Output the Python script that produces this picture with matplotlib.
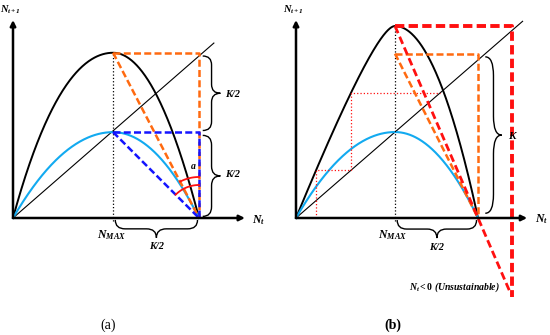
import numpy as np
import matplotlib
matplotlib.use("Agg")
import matplotlib.pyplot as plt
from matplotlib.path import Path
from matplotlib.patches import PathPatch

plt.rcParams['font.family'] = ['Liberation Serif', 'DejaVu Serif']
plt.rcParams['mathtext.fontset'] = 'custom'
plt.rcParams['mathtext.rm'] = 'Liberation Serif'
plt.rcParams['mathtext.it'] = 'Liberation Serif:italic'
plt.rcParams['mathtext.bf'] = 'Liberation Serif:bold'
plt.rcParams['mathtext.bfit'] = 'Liberation Serif:italic:bold'

# values (K = 1)
K = 1.0
# panel (a)
a_nmax = 0.538
a_black_peak = 1.02
a_blue_peak = 0.53
a_black_ctrl = (0.45, 0.5)
a_blue_ctrl = (0.5, 0.5)
a_diag_end = 1.08
a_xaxis_end, a_yaxis_end = 1.247, 1.222
# panel (b)
b_nmax = 0.544
b_black_peak = 1.215
b_blue_peak = 0.544
b_black_ctrl = (0.8, 0.5)
b_blue_ctrl = (0.5, 0.5)
b_orange_top = 1.04
b_red_right, b_red_bottom = 1.187, -0.50
b_red_diag_end = 1.175
b_cobweb_start = 0.11
b_diag_end = 1.245
b_xaxis_end, b_yaxis_end = 1.27, 1.253

# pixel layout of each panel: origin and pixels per unit
W, H = 550, 335
a_origin, a_scale = (13, 218), (186, 162)
b_origin, b_scale = (296, 218), (182, 158)

ORANGE = '#ff6a10'
BLUE = '#1414ff'
CYAN = '#12aaf0'
RED = '#ff1010'
BOLDIT = dict(style='italic', weight='bold')


def panel(fig, origin, scale):
    ax = fig.add_axes([0, 0, 1, 1])
    ox, oy = origin
    sx, sy = scale
    ax.set_xlim(-ox / sx, (W - ox) / sx)
    ax.set_ylim(-(H - oy) / sy, oy / sy)
    ax.axis('off')
    ax.patch.set_alpha(0)
    return ax


def hump(nmax, peak, ctrl, k=K, n=200):
    s = np.linspace(0, 1, n)
    cl, cr = ctrl
    xl = 2 * s * (1 - s) * cl * nmax + s ** 2 * nmax
    yl = peak * (2 * s - s ** 2)
    xr = (1 - s) ** 2 * nmax + 2 * s * (1 - s) * (nmax + cr * (k - nmax)) + s ** 2 * k
    yr = peak * (1 - s ** 2)
    return np.concatenate([xl, xr]), np.concatenate([yl, yr])


def brace(ax, start, length, width, vertical, lw=1.0):
    # curly brace, local u along length, v outwards
    L, w = length, width
    r = 0.12 * abs(L)
    sgn = np.sign(L)
    pts = [(0, 0), (0, w / 2), (sgn * r, w / 2), (L / 2 - sgn * r, w / 2),
           (L / 2, w / 2), (L / 2, w), (L / 2, w / 2), (L / 2 + sgn * r, w / 2),
           (L - sgn * r, w / 2), (L, w / 2), (L, 0)]
    codes = [Path.MOVETO, Path.CURVE3, Path.CURVE3, Path.LINETO,
             Path.CURVE3, Path.CURVE3, Path.CURVE3, Path.CURVE3,
             Path.LINETO, Path.CURVE3, Path.CURVE3]
    x0, y0 = start
    if vertical:
        verts = [(x0 + v, y0 + u) for u, v in pts]
    else:
        verts = [(x0 + u, y0 + v) for u, v in pts]
    ax.add_patch(PathPatch(Path(verts, codes), fill=False, lw=lw, color='black'))


def axes_arrows(ax, xend, yend):
    for xy in [(xend, 0), (0, yend)]:
        ax.annotate('', xy=xy, xytext=(0, 0),
                    arrowprops=dict(arrowstyle='-|>', lw=1.8, color='black',
                                    mutation_scale=8, shrinkA=0, shrinkB=0))


def arc(ax, scale, peak, nmax, radius_px, color=RED):
    sx, sy = scale
    ang = np.arctan2(peak * sy, -(K - nmax) * sx)
    t = np.linspace(np.pi / 2, ang, 40)
    ax.plot(K + radius_px * np.cos(t) / sx, radius_px * np.sin(t) / sy, color=color, lw=1.3)


fig = plt.figure(figsize=(5.5, 3.35), dpi=100)

# ---------------- panel (a)
ax = panel(fig, a_origin, a_scale)
ax.plot([0, a_diag_end], [0, a_diag_end], color='black', lw=0.8)
x, y = hump(a_nmax, a_black_peak, a_black_ctrl)
ax.plot(x, y, color='black', lw=1.4)
x, y = hump(a_nmax, a_blue_peak, a_blue_ctrl)
ax.plot(x, y, color=CYAN, lw=1.5)
ax.plot([a_nmax, a_nmax], [-0.02, a_black_peak], color='black', lw=0.9, ls=':')
dash = dict(lw=1.8, dashes=(2.8, 1.3))
ax.plot([a_nmax, K, K], [a_black_peak, a_black_peak, 0], color=ORANGE, **dash)
ax.plot([a_nmax, K], [a_black_peak, 0], color=ORANGE, **dash)
ax.plot([a_nmax, K, K], [a_blue_peak, a_blue_peak, 0], color=BLUE, **dash)
ax.plot([a_nmax, K], [a_blue_peak, 0], color=BLUE, **dash)
arc(ax, a_scale, a_black_peak, a_nmax, 41)
arc(ax, a_scale, a_blue_peak, a_nmax, 33)
ax.text(0.968, 0.32, 'a', fontsize=7, ha='center', va='center', **BOLDIT)
axes_arrows(ax, a_xaxis_end, a_yaxis_end)
brace(ax, (K + 0.02, a_black_peak - 0.02), -(a_black_peak - a_blue_peak - 0.03), 0.095, True)
brace(ax, (K + 0.02, a_blue_peak - 0.02), -(a_blue_peak - 0.03), 0.095, True)
ax.text(1.14, 0.76, 'K/2', fontsize=7.5, ha='left', va='center', **BOLDIT)
ax.text(1.14, 0.27, 'K/2', fontsize=7.5, ha='left', va='center', **BOLDIT)
brace(ax, (a_nmax + 0.012, -0.012), K - a_nmax - 0.02, -0.11, False)
ax.text(0.774, -0.179, 'K/2', fontsize=7.5, ha='center', va='center', **BOLDIT)
ax.text(0.532, -0.105, r'$\mathbfit{N}_{\mathbfit{MAX}}$', fontsize=8.5, ha='center', va='center')
ax.text(1.285, -0.01, r'$\mathbfit{N}_{\mathbfit{t}}$', fontsize=8.5, ha='left', va='center')
ax.text(-0.016, 1.284, r'$\mathbfit{N}_{\mathbfit{t+1}}$', fontsize=7.5, ha='center', va='center')
ax.text(0.51, -0.66, '(a)', fontsize=10, ha='center', va='center')

# ---------------- panel (b)
ax = panel(fig, b_origin, b_scale)
ax.plot([0, b_diag_end], [0, b_diag_end], color='black', lw=0.8)
xb, yb = hump(b_nmax, b_black_peak, b_black_ctrl)
ax.plot(xb, yb, color='black', lw=1.4)
x, y = hump(b_nmax, b_blue_peak, b_blue_ctrl)
ax.plot(x, y, color=CYAN, lw=1.5)
ax.plot([b_nmax, b_nmax], [-0.02, b_black_peak], color='black', lw=0.9, ls=':')

# cobweb on the black curve
half = len(xb) // 2
f = lambda v: np.interp(v, xb[:half], yb[:half])
y1 = f(b_cobweb_start)
y2 = f(y1)
ax.plot([b_cobweb_start, b_cobweb_start, y1, y1, y2],
        [0, y1, y1, y2, y2], color=RED, lw=0.9, ls=':')

ax.plot([b_nmax, K, K], [b_orange_top, b_orange_top, 0], color=ORANGE, **dash)
ax.plot([b_nmax, K], [b_orange_top, 0], color=ORANGE, **dash)
slope = -b_black_peak / (K - b_nmax)
ax.plot([b_nmax, b_red_diag_end], [b_black_peak, b_black_peak + slope * (b_red_diag_end - b_nmax)],
        color=RED, lw=2.0, dashes=(2.8, 1.4))
ax.plot([b_nmax, b_red_right, b_red_right], [b_black_peak, b_black_peak, b_red_bottom],
        color=RED, lw=2.8, dashes=(2.4, 1.1))
axes_arrows(ax, b_xaxis_end, b_yaxis_end)
brace(ax, (K + 0.04, b_orange_top - 0.02), -(b_orange_top - 0.05), 0.09, True)
ax.text(1.187, 0.513, 'K', fontsize=8, ha='center', va='center', zorder=5, **BOLDIT)
brace(ax, (b_nmax + 0.012, -0.013), K - b_nmax - 0.02, -0.114, False)
ax.text(0.775, -0.184, 'K/2', fontsize=7.5, ha='center', va='center', **BOLDIT)
ax.text(0.533, -0.108, r'$\mathbfit{N}_{\mathbfit{MAX}}$', fontsize=8.5, ha='center', va='center')
ax.text(1.313, -0.01, r'$\mathbfit{N}_{\mathbfit{t}}$', fontsize=8.5, ha='left', va='center')
ax.text(-0.016, 1.316, r'$\mathbfit{N}_{\mathbfit{t+1}}$', fontsize=7.5, ha='center', va='center')
ax.text(1.12, -0.437, r'$\mathbfit{N}_{\mathbfit{t}}\mathbf{<0}$ (Unsustainable)',
        fontsize=7, ha='right', va='center', **BOLDIT)
ax.text(0.53, -0.68, '(b)', fontsize=10, ha='center', va='center', weight='bold')

fig.savefig('out.png', dpi=100)
